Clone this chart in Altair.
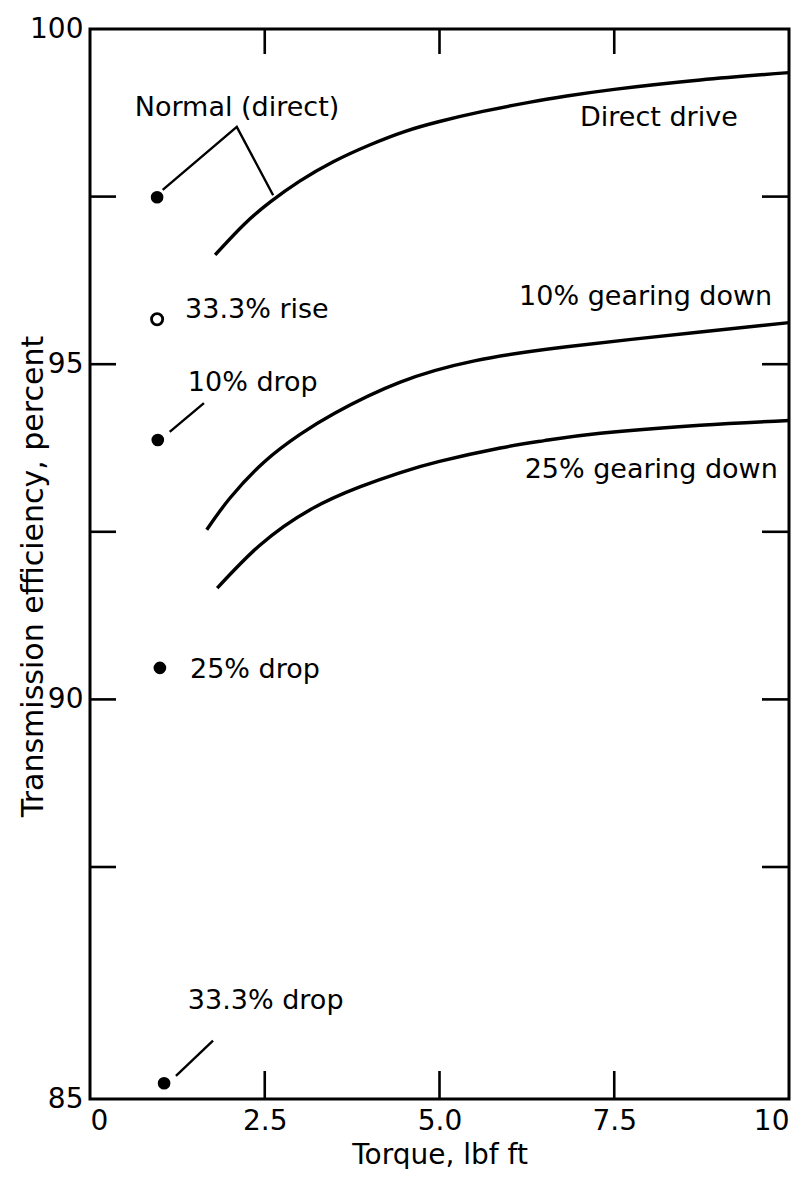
import altair as alt
import pandas as pd

W, H = 699, 1070
FONT = "DejaVu Sans"

# --- curve data (torque lbf ft, efficiency %) ---
direct_x = [1.79, 2.2, 2.58, 3.0, 3.48, 4.0, 4.5, 5.0, 5.62, 6.3, 6.82, 7.5, 8.73, 10.0]
direct_y = [96.63, 97.08, 97.42, 97.73, 98.02, 98.27, 98.47, 98.62, 98.77, 98.91, 99.0, 99.1, 99.24, 99.35]
g10_x = [1.67, 2.0, 2.5, 3.0, 3.5, 4.43, 5.5, 6.82, 8.73, 10.0]
g10_y = [92.53, 93.0, 93.55, 93.95, 94.27, 94.73, 95.05, 95.26, 95.48, 95.62]
g25_x = [1.82, 2.43, 3.15, 3.86, 4.43, 5.0, 5.87, 6.5, 7.30, 8.73, 10.0]
g25_y = [91.66, 92.30, 92.83, 93.17, 93.38, 93.55, 93.75, 93.86, 93.97, 94.09, 94.16]

# --- single-point data ---
filled_x = [0.96, 0.97, 1.0, 1.06]
filled_y = [97.49, 93.87, 90.47, 85.17]
open_x = [0.96]
open_y = [95.67]

# --- leader lines ---
lead_id = ["normal", "normal", "normal", "d10", "d10", "d33", "d33"]
lead_x = [1.04, 2.10, 2.62, 1.14, 1.63, 1.23, 1.76]
lead_y = [97.6, 98.54, 97.52, 93.99, 94.42, 85.25, 85.63]
lead_ord = [0, 1, 2, 0, 1, 0, 1]

# --- annotations ---
lab_l_text = ["Normal (direct)", "Direct drive", "33.3% rise", "10% drop", "25% drop", "33.3% drop"]
lab_l_x = [0.64, 7.01, 1.36, 1.40, 1.43, 1.40]
lab_l_y = [98.82, 98.67, 95.81, 94.72, 90.44, 86.06]
lab_r_text = ["10% gearing down", "25% gearing down"]
lab_r_x = [9.76, 9.84]
lab_r_y = [96.0, 93.42]

# --- axis ticks ---
x_label_vals = [0, 2.5, 5.0, 7.5, 10]
y_label_vals = [85, 90, 95, 100]
x_inner_ticks = [2.5, 5.0, 7.5]
y_inner_ticks = [87.5, 90, 92.5, 95, 97.5]

curves = pd.DataFrame({
    "x": direct_x + g10_x + g25_x,
    "y": direct_y + g10_y + g25_y,
    "s": ["direct"] * len(direct_x) + ["g10"] * len(g10_x) + ["g25"] * len(g25_x),
})
filled = pd.DataFrame({"x": filled_x, "y": filled_y})
opened = pd.DataFrame({"x": open_x, "y": open_y})
leads = pd.DataFrame({"id": lead_id, "x": lead_x, "y": lead_y, "o": lead_ord})
lab_l = pd.DataFrame({"t": lab_l_text, "x": lab_l_x, "y": lab_l_y})
lab_r = pd.DataFrame({"t": lab_r_text, "x": lab_r_x, "y": lab_r_y})
xt = pd.DataFrame({"v": x_inner_ticks})
yt = pd.DataFrame({"v": y_inner_ticks})

xscale = alt.Scale(domain=[0, 10], nice=False, zero=False)
yscale = alt.Scale(domain=[85, 87.5, 100], range=[H, H - 232, 0], nice=False, zero=False)

xaxis = alt.Axis(
    values=x_label_vals,
    labelExpr="datum.value == 0 ? '0' : datum.value == 10 ? '10' : format(datum.value, '.1f')",
    ticks=False, domain=False, grid=False,
    labelFontSize=28, labelPadding=8, labelColor="black", labelFont=FONT,
    title="Torque, lbf ft", titleFontSize=28, titleFontWeight="normal",
    titleFont=FONT, titleColor="black", titlePadding=6,
)
yaxis = alt.Axis(
    values=y_label_vals, format="d",
    ticks=False, domain=False, grid=False,
    labelFontSize=28, labelPadding=7, labelColor="black", labelFont=FONT,
    title="Transmission efficiency, percent", titleFontSize=30, titleFontWeight="normal",
    titleFont=FONT, titleColor="black", titleX=-57, titleY=547, titleAngle=-90,
    titleAlign="center", titleBaseline="middle",
)

X = alt.X("x:Q", scale=xscale, axis=xaxis)
Y = alt.Y("y:Q", scale=yscale, axis=yaxis)

lines = alt.Chart(curves).mark_line(color="black", strokeWidth=3.4, interpolate="natural").encode(
    x=X, y=Y, detail="s:N"
)
leader = alt.Chart(leads).mark_line(color="black", strokeWidth=2.4).encode(
    x="x:Q", y="y:Q", detail="id:N", order="o:Q"
)
dots = alt.Chart(filled).mark_point(filled=True, shape="circle", size=160, color="black", opacity=1).encode(
    x="x:Q", y="y:Q"
)
circ = alt.Chart(opened).mark_point(filled=False, shape="circle", size=125, color="black", strokeWidth=2.8, opacity=1).encode(
    x="x:Q", y="y:Q"
)
txt_l = alt.Chart(lab_l).mark_text(align="left", baseline="middle", fontSize=27, font=FONT, color="black").encode(
    x="x:Q", y="y:Q", text="t:N"
)
txt_r = alt.Chart(lab_r).mark_text(align="right", baseline="middle", fontSize=27, font=FONT, color="black").encode(
    x="x:Q", y="y:Q", text="t:N"
)
tick_left = alt.Chart(yt).mark_rule(color="black", strokeWidth=2.6).encode(
    y="v:Q", x=alt.value(0), x2=alt.value(26)
)
tick_right = alt.Chart(yt).mark_rule(color="black", strokeWidth=2.6).encode(
    y="v:Q", x=alt.value(W - 27), x2=alt.value(W)
)
tick_top = alt.Chart(xt).mark_rule(color="black", strokeWidth=2.6).encode(
    x="v:Q", y=alt.value(0), y2=alt.value(25)
)
tick_bot = alt.Chart(xt).mark_rule(color="black", strokeWidth=2.6).encode(
    x="v:Q", y=alt.value(H - 28), y2=alt.value(H)
)

chart = alt.layer(
    lines, leader, dots, circ, txt_l, txt_r, tick_left, tick_right, tick_top, tick_bot
).properties(
    width=W, height=H,
    autosize=alt.AutoSizeParams(type="none"),
    padding={"left": 82, "top": 21, "right": 15, "bottom": 70},
    background="white",
).configure_view(
    stroke="black", strokeWidth=3, fill="white"
)

chart.save("out.html", embed_options={"renderer": "svg", "actions": False})
